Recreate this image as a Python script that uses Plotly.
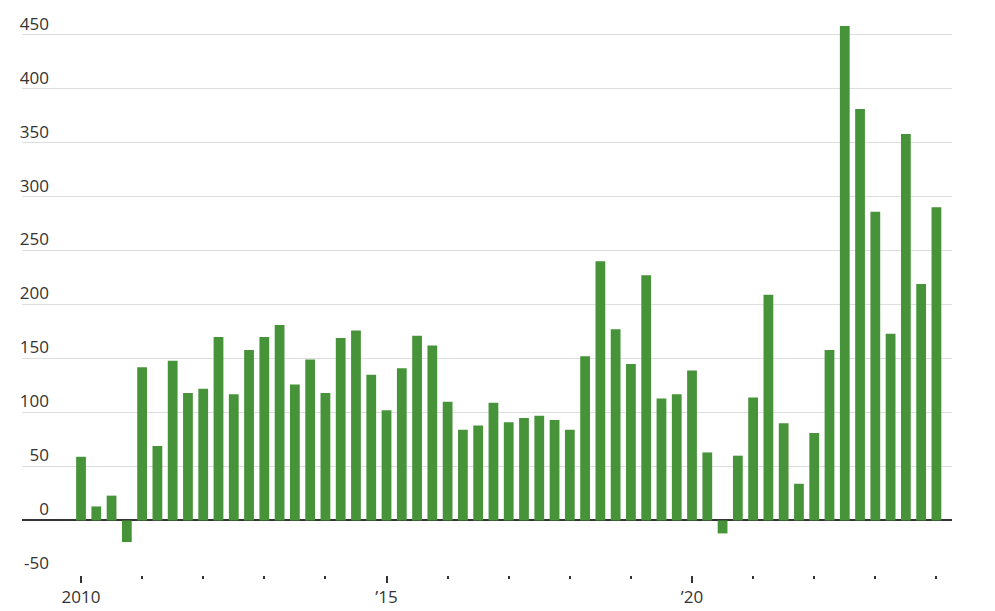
import plotly.graph_objects as go

# Quarterly periods, 2010 Q1 through 2024 Q1
years = [y for y in range(2010, 2025) for _ in range(4)][:57]
quarters = [q for _ in range(2010, 2025) for q in (1, 2, 3, 4)][:57]

values = [59, 13, 23, -20, 142, 69, 148, 118, 122, 170,
          117, 158, 170, 181, 126, 149, 118, 169, 176, 135,
          102, 141, 171, 162, 110, 84, 88, 109, 91, 95,
          97, 93, 84, 152, 240, 177, 145, 227, 113, 117,
          139, 63, -12, 60, 114, 209, 90, 34, 81, 158,
          458, 381, 286, 173, 358, 219, 290]

x_tick_vals = [2010, 2015, 2020]
x_tick_text = ["2010", "\u201915", "\u201920"]
y_tick_vals = [-50, 0, 50, 100, 150, 200, 250, 300, 350, 400, 450]
y_tick_text = [str(v) for v in y_tick_vals]

x = [y + (q - 1) / 4 for y, q in zip(years, quarters)]

FONT = "Open Sans"
TXT = "#333333"

fig = go.Figure(go.Bar(
    x=x, y=values,
    marker=dict(color="#47933a", line=dict(width=0)),
    hoverinfo="skip",
))

# page body adds an 8px offset, so the figure is sized to fit the window
fig.update_layout(
    width=987, height=603,
    margin=dict(l=14, r=43, t=5, b=36, autoexpand=False),
    paper_bgcolor="white", plot_bgcolor="white",
    bargap=0.36,
    showlegend=False,
    font=dict(family=FONT, size=17, color=TXT),
)

fig.update_xaxes(
    range=[2009.034, 2024.255],
    automargin=False,
    tickmode="array", tickvals=x_tick_vals, ticktext=x_tick_text,
    ticks="outside", ticklen=7, tickwidth=1.5, tickcolor=TXT,
    minor=dict(tickmode="linear", tick0=2010, dtick=1, ticks="outside",
               ticklen=3, tickwidth=1.5, tickcolor=TXT, showgrid=False),
    showgrid=False, showline=False, zeroline=False,
    tickfont=dict(family=FONT, size=17, color=TXT),
)

fig.update_yaxes(
    range=[-50.5, 470],
    automargin=False,
    tickmode="array", tickvals=y_tick_vals, ticktext=y_tick_text,
    ticks="", showline=False,
    showgrid=True, gridcolor="#dedede", gridwidth=1,
    zeroline=True, zerolinecolor="#333333", zerolinewidth=1.5,
    ticklabelposition="outside",
    ticklabelstandoff=-28,
    ticklabelshift=-11,
    tickfont=dict(family=FONT, size=17, color=TXT),
)

fig.write_html("out.html")
